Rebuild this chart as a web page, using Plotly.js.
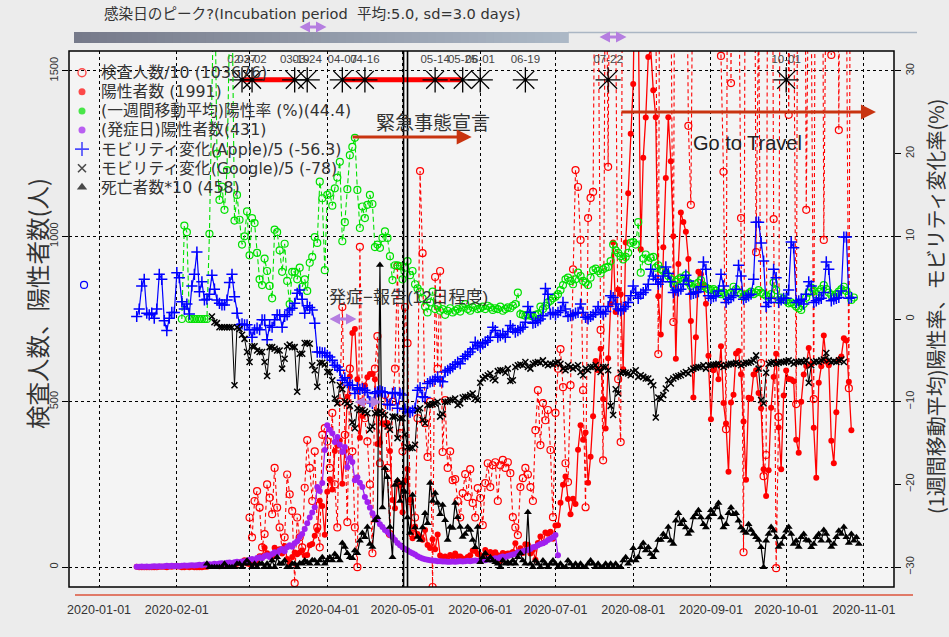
<!DOCTYPE html>
<html><head><meta charset="utf-8">
<script src="https://cdn.plot.ly/plotly-3.0.1.min.js"></script>
<style>body{margin:0;background:#ececec}</style>
</head><body><div id="chart" style="width:949px;height:637px"></div>
<script>
// ---------------- DATA ----------------
const posStart = '2020-01-16';   // 陽性者数 (daily)
const positives = [
 1,0,0,0,0,0,0,0,0,1,1,1,0,2,1,3,
 2,2,0,0,1,0,1,0,0,0,0,1,1,4,5,8,6,3,5,4,9,7,7,7,10,14,15,21,11,
 9,13,14,11,33,33,59,42,37,31,59,52,54,41,64,25,14,31,44,39,44,51,35,37,66,70,95,112,201,185,98,
 228,266,235,351,367,383,252,351,515,576,708,720,568,391,457,549,574,584,584,568,372,377,435,431,436,351,203,178,259,247,
 166,261,297,203,87,123,100,93,83,112,67,58,84,54,99,35,26,32,21,37,32,41,32,32,26,21,31,36,50,49,40,
 37,31,52,40,46,38,45,36,18,43,40,41,41,46,72,44,57,43,69,68,41,52,22,73,93,73,105,101,107,86,
 126,127,195,249,274,206,160,207,191,355,429,385,407,255,334,456,623,595,660,508,419,631,795,981,771,839,825,598,981,1130,1310,
 1460,1991,1700,961,1237,1359,1542,1565,1441,1360,819,703,967,1176,1360,1227,1000,630,916,1072,1043,1014,931,744,513,695,893,885,855,796,639,
 447,595,611,568,668,496,434,288,498,521,646,653,583,440,264,512,509,582,595,526,480,296,215,293,482,575,645,422,296,519,
 594,569,567,562,385,346,500,582,608,662,614,421,270,557,607,700,621,610,382,314,468,627,637,692,685,560,414
];
const testStart = '2020-03-01';  // 検査人数/10 (daily)
const tests = [
 150,90,200,230,180,60,100,250,210,160,300,180,120,50,90,280,220,170,-48,150,90,60,240,384,300,200,350,120,60,400,420,
 380,300,466,250,120,500,786,400,136,600,350,120,0,968,500,450,380,250,42,600,698,314,450,520,300,100,500,600,910,405,
 350,786,677,200,100,150,450,1197,949,435,333,500,-60,877,600,895,348,505,300,350,263,266,200,150,224,281,212,296,194,150,239,
 209,127,254,314,242,308,317,200,308,324,300,317,284,151,120,97,242,269,300,280,242,200,414,535,369,496,444,475,354,151,
 466,600,659,544,314,257,550,900,1200,1149,989,535,181,1055,1116,1134,2200,1800,717,323,2200,1210,2400,1800,1700,568,378,2500,2600,2800,2900,
 2700,1800,1700,3000,3200,3100,3000,2500,1900,1700,644,3000,3200,2900,2400,1800,741,3000,3100,3000,2900,2200,1334,1095,3000,3100,3000,2900,2200,1700,1900,
 3000,3100,3000,2900,1545,1195,417,3000,1463,3100,2900,2000,1055,45,3000,3100,3000,2800,952,1700,617,275,339,3000,3000,1052,-3,454,3100,3000,
 3000,1367,2000,1800,493,3000,3100,3000,1080,1900,1700,508,3000,3100,3000,989,1900,1700,1548,3000,3000,1321,3000,2000,1800,541,3000,3100
];
const rateStart = '2020-02-03';  // (一週間移動平均)陽性率 %
const positiveRate = [
 0,11.3,10.5,0,0,0,0,0,0,0,0,10.3,38,44.4,20,14.4,16,13.2,18,35,40,11.9,15,12,9,10,13,
 7.7,12.2,11.6,8.0,4.8,4.1,7.3,5.8,4.0,2.5,10.8,10.5,8.3,5.7,9.1,4.6,1.8,5.7,5.7,4.8,6.2,3.9,4.8,3.4,6.8,7.5,9.9,9.2,16.6,14.6,5.9,
 15.0,15.2,13.7,15.8,17.1,19.0,9.4,11.7,15.7,19.8,20.8,21.9,15.6,11.0,13.6,12.2,13.8,15.0,13.9,8.7,9.0,8.6,9.8,10.6,9.8,7.6,4.7,6.5,6.5,6.4,
 4.8,6.2,7.0,5.3,5.8,4.2,3.7,3.3,2.5,1.5,0.8,2.0,3.3,1.2,1.6,1.0,1.2,0.5,1.0,1.3,0.8,1.0,1.2,0.9,1.4,1.8,1.2,1.0,1.4,1.6,1.2,
 1.3,1.5,1.2,1.6,1.4,1.1,1.3,1.2,1.5,1.0,1.2,1.4,1.3,1.6,1.8,3.2,0.6,0.5,0.4,0.5,0.4,0.3,0.5,0.6,1.5,1.2,1.6,2.0,2.2,2.5,
 2.7,3.0,3.5,4.1,4.8,5.0,4.6,4.2,4.8,5.6,5.2,4.6,4.4,4.1,5.0,5.9,6.1,5.8,5.5,6.0,6.2,6.3,7.0,9.0,8.3,8.0,7.6,7.2,7.5,8.0,9.2,
 9.3,9.0,11.7,5.6,7.3,7.8,7.0,7.4,7.5,6.2,6.5,6.0,5.8,5.6,5.2,4.8,4.1,4.5,4.8,5.0,4.6,5.3,4.4,4.0,3.7,4.2,4.4,4.7,4.0,3.8,3.6,
 3.5,3.6,3.4,3.2,3.0,3.2,2.8,3.0,3.2,3.9,3.6,3.2,3.0,2.7,2.9,3.1,3.3,3.0,3.2,3.5,3.2,3.0,2.8,2.7,3.0,4.4,3.5,2.3,2.6,2.4,
 2.2,1.9,2.0,1.8,1.5,1.3,1.1,1.8,2.6,3.2,3.8,3.4,3.0,3.3,3.6,4.1,3.6,3.2,2.9,2.7,3.0,3.3,3.6,3.9,3.4,2.9,2.3,2.6
];
const onsetStart = '2020-01-16'; // (発症日)陽性者数
const onsetPositives = [
 1,1,2,1,2,1,2,3,2,3,2,3,4,3,4,3,
 4,3,4,5,4,5,6,5,6,7,6,8,7,9,8,10,9,11,12,10,13,14,12,15,16,14,17,18,16,
 22,25,21,28,30,27,33,36,31,40,45,42,50,55,48,60,66,62,72,78,91,100,115,133,150,165,181,242,230,254,354,
 429,415,405,378,393,370,348,363,302,330,318,263,272,255,242,212,197,180,163,150,142,130,121,112,106,98,91,82,73,66,
 60,55,51,46,42,38,33,29,26,24,22,21,20,19,18,18,17,17,16,16,17,16,17,18,17,18,19,18,19,20,19,
 20,22,21,24,23,25,27,26,30,32,31,34,36,38,40,45,44,48,50,52,55,60,62,66,70,72,76,82,86,90,
 97,36
];
const appleStart = '2020-01-16'; // モビリティ変化(Apple)/5
const appleMobility = [
 0.3,1.2,4.0,4.8,0.7,0.5,0.7,0.1,1.2,5.4,4.8,-0.2,-1.4,0.1,0.8,0.8,
 5.6,5.0,2.1,1.2,1.8,0.6,4.0,5.4,8.1,3.3,4.5,2.3,2.4,3.0,5.3,3.6,2.3,1.9,1.7,1.7,2.3,4.4,5.4,2.7,0.7,-0.7,-0.6,-0.7,-0.7,
 -1.3,-2.2,-1.3,-1.1,-1.3,-0.1,-0.1,-2.5,-0.8,-1.0,-0.1,0.5,0.5,-1.0,0.3,0.5,1.1,1.3,1.9,3.1,3.5,2.4,0.7,1.6,1.4,1.1,-0.5,-4.0,-4.0,-4.1,-4.1,
 -4.4,-4.6,-5.0,-5.6,-5.8,-6.2,-7.4,-7.1,-7.7,-8.0,-8.0,-9.0,-8.3,-8.5,-8.4,-8.6,-8.9,-10.0,-10.2,-9.0,-8.8,-8.7,-8.8,-8.9,-10.3,-10.4,-9.0,-8.9,-10.8,-9.0,
 -9.2,-10.9,-11.2,-11.3,-11.1,-10.8,-8.6,-8.3,-9.4,-9.5,-7.8,-7.6,-7.5,-7.3,-7.0,-7.5,-7.6,-6.4,-6.2,-6.0,-5.8,-5.5,-5.2,-5.4,-4.8,-4.5,-4.3,-4.0,-3.6,-2.8,-3.2,
 -3.4,-3.0,-2.8,-2.6,-2.2,-1.0,-1.4,-2.2,-2.0,-1.8,-2.2,-1.5,-0.8,-1.2,-1.6,-1.4,-1.2,-1.0,-0.4,1.5,0.8,-0.5,-0.4,-0.2,0.0,0.4,3.7,3.0,0.6,0.8,
 0.5,0.8,1.0,2.0,1.2,0.3,0.4,0.5,0.7,0.8,1.8,0.8,0.2,0.0,0.3,0.5,0.8,1.5,0.8,0.6,0.9,1.5,2.8,2.6,1.8,1.2,1.0,1.2,1.5,2.0,2.8,
 4.0,3.2,2.5,3.0,3.2,3.5,4.2,6.0,5.2,4.8,4.2,4.5,5.2,6.3,5.5,4.5,3.2,3.5,3.4,3.6,4.2,5.3,4.6,3.0,3.1,3.2,3.3,3.9,6.9,6.0,2.8,
 2.5,2.7,2.8,3.4,5.4,4.0,2.0,2.4,2.6,2.8,3.6,6.5,5.2,2.4,2.6,2.8,3.0,4.8,11.7,11.7,9.2,7.0,1.5,2.0,2.5,6.0,5.0,2.0,2.3,2.5,
 2.5,3.5,9.3,8.6,2.0,2.2,2.4,1.8,3.0,4.5,4.0,2.0,2.2,2.4,2.5,3.2,6.9,6.0,2.2,2.4,2.5,2.6,3.4,9.9,9.9,2.5,2.6
];
const googleStart = '2020-02-15'; // モビリティ変化(Google)/5
const googleMobility = [
 0.3,-0.4,-0.5,-1.0,-1.0,-1.0,-1.0,-1.0,-1.0,-8.0,-1.0,-1.2,-1.9,-2.4,-4.0,
 -5.2,-3.3,-3.3,-3.8,-4.0,-4.0,-5.2,-6.9,-3.4,-3.4,-3.6,-3.8,-3.8,-6.0,-4.8,-3.3,-3.1,-3.4,-3.4,-8.8,-4.2,-4.2,-2.9,-2.9,-3.0,-5.6,-6.2,-8.2,-5.3,-5.3,-5.5,
 -6.4,-6.4,-7.4,-9.6,-10.2,-8.0,-8.5,-10.0,-10.2,-10.5,-12.5,-13.2,-10.8,-11.0,-11.0,-11.2,-11.4,-13.4,-13.0,-11.4,-11.3,-11.2,-11.4,-11.6,-13.0,-13.4,-11.8,-11.8,-14.4,-12.0,
 -12.0,-14.0,-15.5,-15.6,-15.6,-15.2,-11.0,-10.8,-12.2,-12.6,-10.4,-10.4,-10.3,-10.2,-10.0,-11.8,-11.5,-10.0,-10.0,-9.8,-9.8,-9.6,-10.4,-10.2,-9.5,-9.4,-9.4,-9.2,-9.0,-9.6,-9.8,
 -7.7,-7.2,-7.0,-6.8,-6.6,-7.2,-7.4,-6.3,-6.2,-6.2,-6.5,-6.0,-7.5,-7.4,-5.8,-5.6,-5.5,-5.6,-5.2,-5.8,-6.0,-5.4,-5.3,-5.2,-5.3,-5.0,-5.4,-5.6,-5.4,-5.5,
 -5.3,-5.2,-5.4,-6.0,-6.2,-5.6,-5.8,-6.0,-5.8,-5.6,-6.4,-6.8,-6.0,-6.2,-5.8,-5.8,-5.6,-6.0,-6.4,-5.8,-5.8,-6.2,-10.5,-11.6,-8.5,-9.0,-6.5,-6.4,-6.5,-6.6,-6.8,
 -6.4,-6.2,-7.0,-6.8,-7.0,-7.2,-7.2,-7.6,-8.0,-11.9,-9.5,-9.6,-9.2,-8.4,-7.4,-7.8,-7.2,-7.0,-6.9,-6.8,-6.6,-6.4,-6.6,-6.2,-6.0,-5.9,-5.8,-5.8,-5.6,-6.0,-5.6,
 -5.6,-5.5,-5.5,-5.4,-5.6,-5.8,-5.6,-5.5,-5.4,-5.4,-5.3,-5.4,-5.6,-5.4,-5.3,-5.3,-5.2,-5.0,-4.4,-6.0,-9.8,-10.2,-6.5,-5.4,-5.3,-5.2,-5.4,-5.3,-5.2,-5.2,
 -5.1,-5.0,-5.2,-5.4,-5.2,-5.2,-5.1,-5.2,-5.0,-7.7,-5.6,-5.2,-5.1,-5.2,-5.0,-4.9,-4.1,-5.0,-5.2,-5.1,-5.2,-5.0,-4.9,-5.2
];
const deathStart = '2020-02-13'; // 死亡者数*10
const deaths10 = [
 10,0,0,0,0,0,0,10,0,0,0,0,10,10,0,10,20,
 10,0,10,0,10,10,0,10,0,20,0,30,10,10,20,0,0,10,10,0,12,10,20,15,10,21,20,10,20,30,10,
 21,30,20,40,30,20,73,61,42,30,27,50,42,80,103,90,121,70,61,142,151,913,180,299,272,121,30,248,263,200,
 254,227,150,103,218,120,91,82,120,163,133,254,200,224,194,160,188,142,82,121,118,194,151,121,91,100,121,112,82,60,121,
 15,30,42,20,30,20,15,10,0,20,10,15,10,20,10,30,42,20,10,166,10,0,20,10,0,20,10,0,10,20,
 10,0,10,0,0,20,10,0,10,0,10,0,0,10,20,10,0,10,0,0,10,0,10,0,10,0,0,20,30,10,20,
 57,20,30,60,73,50,60,40,30,50,82,82,100,90,121,80,70,140,163,130,142,120,100,110,150,160,172,150,130,120,150,
 172,160,180,194,150,120,130,163,180,160,163,140,120,110,103,130,112,100,90,82,60,0,80,100,121,110,90,61,70,90,
 110,121,100,70,80,61,90,100,82,80,60,70,90,100,80,112,100,80,61,70,90,110,100,121,90,73,100,80,90,70
];
const extraPointDate = ['2019-12-26'];  // lone blue open circle
const extraPointValue = [853];
const eventDates  = ['2020-02-27','2020-03-02','2020-03-19','2020-03-24','2020-04-07','2020-04-16','2020-05-14','2020-05-25','2020-06-01','2020-06-19','2020-07-22','2020-10-01'];
const eventLabels = ['02-27','03-02','03-19','03-24','04-07','04-16','05-14','05-25','06-01','06-19','07-22','10-01'];
const redSpans = [['2020-02-27','2020-03-19'],['2020-04-07','2020-05-25']];
const legendLabels = ['検査人数/10 (103676)','陽性者数 (1991)','(一週間移動平均)陽性率 (%)(44.4)','(発症日)陽性者数(431)','モビリティ変化(Apple)/5 (-56.3)','モビリティ変化(Google)/5 (-78)','死亡者数*10 (458)'];
const monthTicks = ['2020-01-01','2020-02-01','2020-03-01','2020-04-01','2020-05-01','2020-06-01','2020-07-01','2020-08-01','2020-09-01','2020-10-01','2020-11-01'];
const monthTickText = ['2020-01-01','2020-02-01','','2020-04-01','2020-05-01','2020-06-01','2020-07-01','2020-08-01','2020-09-01','2020-10-01','2020-11-01'];

// ---------------- HELPERS ----------------
function days(start, n){
  const t0 = Date.parse(start + 'T00:00:00Z'); const out = [];
  for (let i = 0; i < n; i++) out.push(new Date(t0 + i*86400000).toISOString().slice(0,10));
  return out;
}
const PL=69, PR=894, PT=51, PB=587;
const px = v => (v-PL)/(PR-PL);
const py = v => (PB-v)/(PB-PT);
const FONT = 'Liberation Sans, Noto Sans CJK JP, sans-serif';
const WFONT = 'DejaVu Sans, Noto Sans CJK JP, sans-serif';
const CJK = 'Noto Sans CJK JP, sans-serif';
const STAR_Y = 1473;

const RED='#ff0000', GREEN='#00e000', PURPLE='#a020f0', BLUE='#0000ff';

const traces = [];
traces.push({x:days(testStart,tests.length), y:tests, type:'scatter', mode:'lines+markers',
  line:{color:RED,width:1.1,dash:'4px,3px'}, marker:{symbol:'circle-open',size:7,color:RED,line:{width:1.2}}, showlegend:false});
traces.push({x:days(posStart,positives.length), y:positives, type:'scatter', mode:'lines+markers',
  line:{color:RED,width:1.3}, marker:{symbol:'circle',size:6,color:RED}, showlegend:false});
traces.push({x:days(onsetStart,onsetPositives.length), y:onsetPositives, type:'scatter', mode:'lines+markers',
  line:{color:PURPLE,width:1.3}, marker:{symbol:'circle',size:6,color:PURPLE}, showlegend:false});
traces.push({x:days(deathStart,deaths10.length), y:deaths10, type:'scatter', mode:'lines+markers',
  line:{color:'#000',width:1.2}, marker:{symbol:'triangle-up',size:7,color:'#000'}, showlegend:false});
traces.push({x:extraPointDate, y:extraPointValue, type:'scatter', mode:'markers',
  marker:{symbol:'circle-open',size:7,color:BLUE,line:{width:1.2}}, showlegend:false, cliponaxis:false});
redSpans.forEach(s => traces.push({x:s, y:[STAR_Y,STAR_Y], type:'scatter', mode:'lines', line:{color:RED,width:5}, showlegend:false}));
traces.push({x:eventDates, y:eventDates.map(()=>STAR_Y), text:eventLabels, type:'scatter', mode:'markers+text',
  textposition:'top center', textfont:{family:FONT,size:11.5,color:'#444'},
  marker:{symbol:'asterisk-open',size:21,color:'#000',line:{width:1.3,color:'#000'}}, showlegend:false});
traces.push({x:days(rateStart,positiveRate.length), y:positiveRate, yaxis:'y2', type:'scatter', mode:'lines+markers',
  line:{color:GREEN,width:1.1,dash:'5px,3px'}, marker:{symbol:'circle-open',size:7,color:GREEN,line:{width:1.2}}, showlegend:false});
traces.push({x:days(appleStart,appleMobility.length), y:appleMobility, yaxis:'y2', type:'scatter', mode:'lines+markers',
  line:{color:BLUE,width:1.2}, marker:{symbol:'cross-thin-open',size:8,color:BLUE,line:{width:1.5,color:BLUE}}, showlegend:false});
traces.push({x:days(googleStart,googleMobility.length), y:googleMobility, yaxis:'y2', type:'scatter', mode:'lines+markers',
  line:{color:'#000',width:1}, marker:{symbol:'x-thin-open',size:6,color:'#000',line:{width:1.5,color:'#000'}}, showlegend:false});

const legSym = ['circle-open','circle','circle','circle','cross-thin-open','x-thin-open','triangle-up'];
const legCol = [RED,RED,GREEN,PURPLE,BLUE,'#000','#000'];
const legY = legendLabels.map((_,i)=>72.7+19.1*i);
traces.push({x:legY.map(()=>82), y:legY, xaxis:'x3', yaxis:'y3', type:'scatter', mode:'markers', showlegend:false,
  marker:{symbol:legSym, size:[8,7,7,7,10,8,9], color:legCol, line:{width:[1.4,0,0,0,1.6,1.6,0], color:legCol}}});

// ---------------- SHAPES ----------------
const shapes = [];
const NB=60, bx0=74, bx1=568;
for (let i=0;i<NB;i++){
  const t=i/(NB-1);
  const r=Math.round(118+(172-118)*t), g=Math.round(122+(184-122)*t), b=Math.round(138+(198-138)*t);
  shapes.push({type:'rect',xref:'paper',yref:'paper',x0:px(bx0+(bx1-bx0)*i/NB),x1:px(bx0+(bx1-bx0)*(i+1)/NB)+0.001,
    y0:py(43),y1:py(32),fillcolor:`rgb(${r},${g},${b})`,line:{width:0},layer:'above'});
}
shapes.push({type:'line',xref:'paper',yref:'paper',x0:px(568),x1:px(917),y0:py(32.5),y1:py(32.5),line:{color:'#aab6c4',width:1.5}});
shapes.push({type:'line',xref:'paper',yref:'paper',x0:px(75),x1:px(913),y0:py(595),y1:py(595),line:{color:'#e07a68',width:2}});
['2020-05-01T10:00','2020-05-03T00:00'].forEach(d=>shapes.push({type:'line',xref:'x',yref:'paper',x0:d,x1:d,y0:0,y1:1,line:{color:'#000',width:1.6},layer:'above'}));
const arrowPath='M-13.5,0 L-3,5.5 L-3,1.5 L3,1.5 L3,5.5 L13.5,0 L3,-5.5 L3,-1.5 L-3,-1.5 L-3,-5.5 Z';
[[313,27],[613,37],[343,319],[368,402]].forEach(p=>shapes.push({type:'path',xref:'paper',yref:'paper',
  xsizemode:'pixel',ysizemode:'pixel',xanchor:px(p[0]),yanchor:py(p[1]),path:arrowPath,fillcolor:'#b57ee0',line:{width:0},layer:'above'}));
shapes.push({type:'rect',xref:'paper',yref:'paper',x0:0,x1:1,y0:0,y1:1,line:{color:'#000',width:1.5},layer:'above'});

// ---------------- ANNOTATIONS ----------------
const ann = [];
const A = (o)=>ann.push(Object.assign({xref:'paper',yref:'paper',showarrow:false,xanchor:'center',yanchor:'middle'},o));
legendLabels.forEach((t,i)=>A({x:px(99),y:py(legY[i]),xanchor:'left',text:t,font:{family:WFONT,size:15.8,color:'#333'}}));
A({x:px(312),y:py(13),text:'感染日のピーク?(Incubation period \u00a0平均:5.0, sd=3.0 days)',font:{family:WFONT,size:14.6,color:'#333'}});
A({x:px(433),y:py(121),text:'緊急事態宣言',font:{family:CJK,size:19,color:'#333'}});
A({x:px(747),y:py(143),text:'Go to Travel',font:{family:FONT,size:20,color:'#222'}});
A({x:px(408),y:py(297),text:'発症−報告(12日程度)',font:{family:FONT,size:17,color:'#333'}});
ann.push({xref:'x',yref:'y',x:'2020-05-28T14:00',y:1300,axref:'x',ayref:'y',ax:'2020-04-10T12:00',ay:1300,text:'',
  showarrow:true,arrowhead:2,arrowsize:1,arrowwidth:3,arrowcolor:'#c83410'});
ann.push({xref:'x',yref:'y',x:'2020-11-05T19:00',y:1376,axref:'x',ayref:'y',ax:'2020-07-26T17:00',ay:1376,text:'',
  showarrow:true,arrowhead:2,arrowsize:1,arrowwidth:3,arrowcolor:'#c83410'});
A({x:px(37),y:py(304),text:'検査人数、陽性者数(人)',textangle:-90,font:{family:CJK,size:23.5,color:'#333'}});
A({x:px(935),y:py(307),text:'(1週間移動平均)陽性率、モビリティ変化率(%)',textangle:-90,font:{family:CJK,size:20,color:'#333'}});

const layout = {
  width:949, height:637, margin:{l:PL,r:949-PR,t:PT,b:637-PB},
  paper_bgcolor:'#ececec', plot_bgcolor:'#f4f4f4', showlegend:false,
  font:{family:FONT,color:'#333'},
  xaxis:{type:'date', range:['2019-12-20','2020-11-13'], tickvals:monthTicks, ticktext:monthTickText,
    showgrid:true, gridcolor:'#000', griddash:'dot', gridwidth:1, zeroline:false, showline:false,
    ticks:'outside', ticklen:11, tickcolor:'rgba(0,0,0,0)', tickfont:{size:12.5,color:'#333',family:FONT}},
  yaxis:{range:[-60,1560], tickvals:[0,500,1000,1500], tickangle:-90, showgrid:true, gridcolor:'#000', griddash:'dot', gridwidth:1,
    zeroline:false, showline:false, ticks:'outside', ticklen:6, tickcolor:'#000', tickfont:{size:11,color:'#333',family:FONT}},
  yaxis2:{overlaying:'y', side:'right', range:[-32.4,32.4], tickvals:[-30,-20,-10,0,10,20,30], tickangle:-90, showgrid:false,
    zeroline:false, showline:false, ticks:'outside', ticklen:6, tickcolor:'#000', tickfont:{size:11,color:'#333',family:FONT}},
  xaxis3:{overlaying:'x', anchor:'y3', range:[PL,PR], visible:false, fixedrange:true},
  yaxis3:{overlaying:'y', anchor:'x3', range:[PB,PT], visible:false, fixedrange:true},
  shapes:shapes, annotations:ann
};
Plotly.newPlot('chart', traces, layout, {displayModeBar:false, staticPlot:true});
</script></body></html>
